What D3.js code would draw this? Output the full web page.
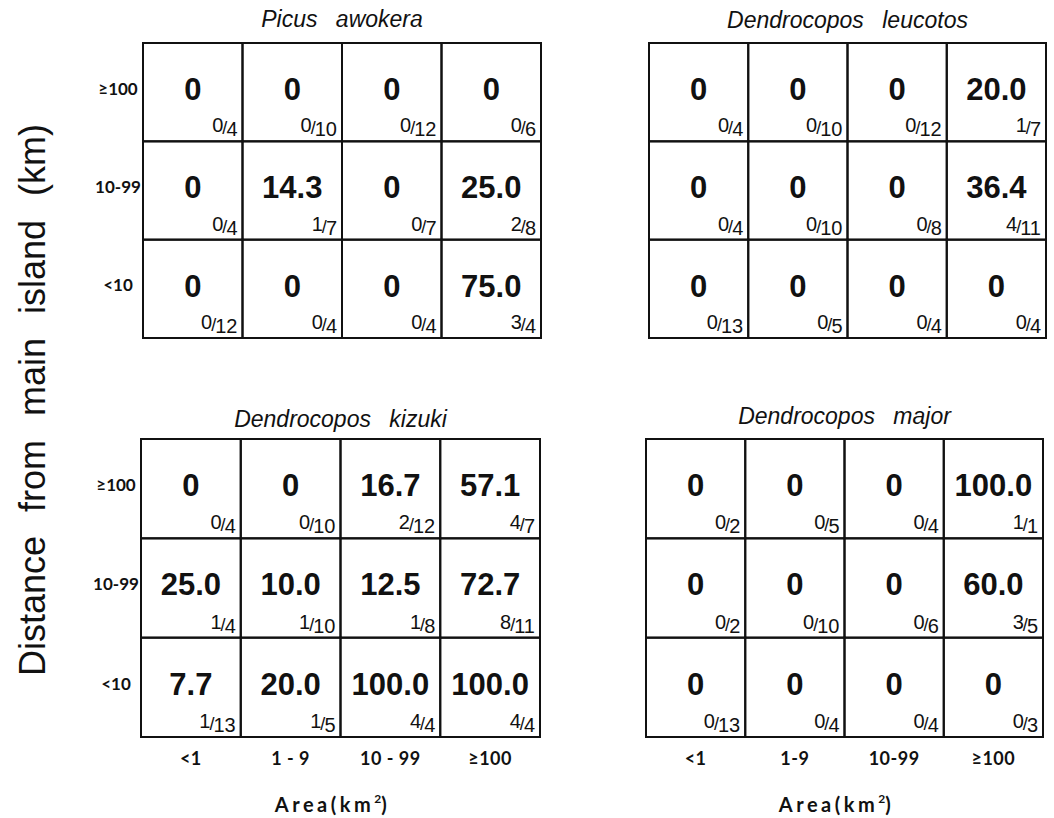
<!DOCTYPE html>
<html>
<head>
<meta charset="utf-8">
<script src="https://cdn.jsdelivr.net/npm/d3@7"></script>
<style>
  html, body { margin: 0; padding: 0; background: #fff; }
  svg { display: block; }
</style>
</head>
<body>
<svg id="chart" width="1054" height="818"></svg>
<script>
// Occupancy of islands by four woodpecker species, by island area and distance from the main island.
const species = ["Picus awokera", "Dendrocopos leucotos", "Dendrocopos kizuki", "Dendrocopos major"];
const distanceClasses = ["≥100", "10-99", "<10"];
const areaClasses = ["<1", "1-9", "10-99", "≥100"];
const areaTickLabelsLeft = ["<1", "1 - 9", "10 - 99", "≥100"];
const areaTickLabelsRight = ["<1", "1-9", "10-99", "≥100"];

// percent of islands occupied (rows: distance class, columns: area class)
const awokeraPct = [[0, 0, 0, 0], [0, 14.3, 0, 25.0], [0, 0, 0, 75.0]];
const leucotosPct = [[0, 0, 0, 20.0], [0, 0, 0, 36.4], [0, 0, 0, 0]];
const kizukiPct = [[0, 0, 16.7, 57.1], [25.0, 10.0, 12.5, 72.7], [7.7, 20.0, 100.0, 100.0]];
const majorPct = [[0, 0, 0, 100.0], [0, 0, 0, 60.0], [0, 0, 0, 0]];

// islands occupied / islands surveyed
const awokeraOccupied = [[0, 0, 0, 0], [0, 1, 0, 2], [0, 0, 0, 3]];
const awokeraSurveyed = [[4, 10, 12, 6], [4, 7, 7, 8], [12, 4, 4, 4]];
const leucotosOccupied = [[0, 0, 0, 1], [0, 0, 0, 4], [0, 0, 0, 0]];
const leucotosSurveyed = [[4, 10, 12, 7], [4, 10, 8, 11], [13, 5, 4, 4]];
const kizukiOccupied = [[0, 0, 2, 4], [1, 1, 1, 8], [1, 1, 4, 4]];
const kizukiSurveyed = [[4, 10, 12, 7], [4, 10, 8, 11], [13, 5, 4, 4]];
const majorOccupied = [[0, 0, 0, 1], [0, 0, 0, 3], [0, 0, 0, 0]];
const majorSurveyed = [[2, 5, 4, 1], [2, 10, 6, 5], [13, 4, 4, 3]];

const panels = [
  { name: species[0], pct: awokeraPct, occ: awokeraOccupied, tot: awokeraSurveyed,
    box: [143, 541, 43, 338], titleY: 27, rowLabels: true, colLabels: false },
  { name: species[1], pct: leucotosPct, occ: leucotosOccupied, tot: leucotosSurveyed,
    box: [649, 1046, 43, 338], titleY: 28, rowLabels: false, colLabels: false },
  { name: species[2], pct: kizukiPct, occ: kizukiOccupied, tot: kizukiSurveyed,
    box: [141, 540, 439, 737], titleY: 427, rowLabels: true, colLabels: true, ticks: areaTickLabelsLeft },
  { name: species[3], pct: majorPct, occ: majorOccupied, tot: majorSurveyed,
    box: [646, 1043, 439, 737], titleY: 424, rowLabels: false, colLabels: true, ticks: areaTickLabelsRight }
];

const svg = d3.select("#chart");
const fmt = v => v === 0 ? "0" : d3.format(".1f")(v);
const labelFont = "Lato, 'DejaVu Sans', sans-serif";
const mainFont = "'Liberation Sans', Arial, sans-serif";
const narrowFont = "'Liberation Sans Narrow', 'Liberation Sans', Arial, sans-serif";

panels.forEach(p => {
  const [x0, x1, y0, y1] = p.box;
  const x = d3.scaleBand().domain(areaClasses).range([x0, x1]);
  const y = d3.scaleBand().domain(distanceClasses).range([y0, y1]);
  const g = svg.append("g");

  // species title
  g.append("text")
    .attr("x", (x0 + x1) / 2).attr("y", p.titleY)
    .attr("text-anchor", "middle")
    .attr("font-family", mainFont)
    .attr("font-style", "italic")
    .attr("font-size", 23)
    .attr("word-spacing", 12)
    .attr("fill", "#111")
    .text(p.name);

  const cells = [];
  distanceClasses.forEach((d, ri) => areaClasses.forEach((a, ci) => {
    cells.push({ d, a, pct: p.pct[ri][ci], occ: p.occ[ri][ci], tot: p.tot[ri][ci] });
  }));

  // cell frames
  g.selectAll("rect.cell").data(cells).join("rect")
    .attr("class", "cell")
    .attr("x", c => x(c.a)).attr("y", c => y(c.d))
    .attr("width", x.bandwidth()).attr("height", y.bandwidth())
    .attr("fill", "none").attr("stroke", "#111").attr("stroke-width", 2);

  // percentage occupied
  g.selectAll("text.pct").data(cells).join("text")
    .attr("class", "pct")
    .attr("x", c => x(c.a) + x.bandwidth() / 2)
    .attr("y", c => y(c.d) + 57)
    .attr("text-anchor", "middle")
    .attr("font-family", mainFont)
    .attr("font-weight", "bold")
    .attr("font-size", 31)
    .attr("fill", "#111")
    .text(c => fmt(c.pct));

  // occupied / surveyed, set as a diagonal fraction
  const frac = g.selectAll("text.frac").data(cells).join("text")
    .attr("class", "frac")
    .attr("x", c => x(c.a) + x.bandwidth() - 5)
    .attr("y", c => y(c.d) + y.bandwidth() - 5)
    .attr("text-anchor", "end")
    .attr("font-family", narrowFont)
    .attr("font-size", 20)
    .attr("fill", "#111");
  frac.append("tspan").attr("dy", -4).text(c => c.occ);
  frac.append("tspan").attr("dx", -1).attr("dy", 2).attr("font-size", 18).text("/");
  frac.append("tspan").attr("dx", -1).attr("dy", 2).text(c => c.tot);

  if (p.rowLabels) {
    g.selectAll("text.row").data(distanceClasses).join("text")
      .attr("class", "row")
      .attr("x", x0 - 25)
      .attr("y", d => y(d) + y.bandwidth() / 2 - 2)
      .attr("text-anchor", "middle")
      .attr("dominant-baseline", "middle")
      .attr("font-family", labelFont)
      .attr("font-weight", "bold")
      .attr("font-size", 17)
      .attr("fill", "#111")
      .text(d => d);
  }

  if (p.colLabels) {
    g.selectAll("text.col").data(areaClasses).join("text")
      .attr("class", "col")
      .attr("x", a => x(a) + x.bandwidth() / 2)
      .attr("y", y1 + 23)
      .attr("text-anchor", "middle")
      .attr("dominant-baseline", "middle")
      .attr("font-family", labelFont)
      .attr("font-weight", "bold")
      .attr("font-size", 18)
      .attr("letter-spacing", 0.5)
      .attr("fill", "#111")
      .text((a, i) => p.ticks[i]);

    const at = g.append("text")
      .attr("x", (x0 + x1) / 2 - 8)
      .attr("y", y1 + 75)
      .attr("text-anchor", "middle")
      .attr("font-family", labelFont)
      .attr("font-weight", "bold")
      .attr("font-size", 20)
      .attr("letter-spacing", 3.5)
      .attr("fill", "#111");
    at.append("tspan").text("Area(km");
    at.append("tspan").attr("dy", -9).attr("font-size", 12).attr("letter-spacing", 0).text("2");
    at.append("tspan").attr("dy", 9).text(")");
  }
});

// shared vertical axis title
svg.append("text")
  .attr("transform", "translate(45,400) rotate(-90)")
  .attr("text-anchor", "middle")
  .attr("font-family", mainFont)
  .attr("font-size", 36)
  .attr("word-spacing", 14)
  .attr("fill", "#111")
  .text("Distance from main island (km)");
</script>
</body>
</html>
